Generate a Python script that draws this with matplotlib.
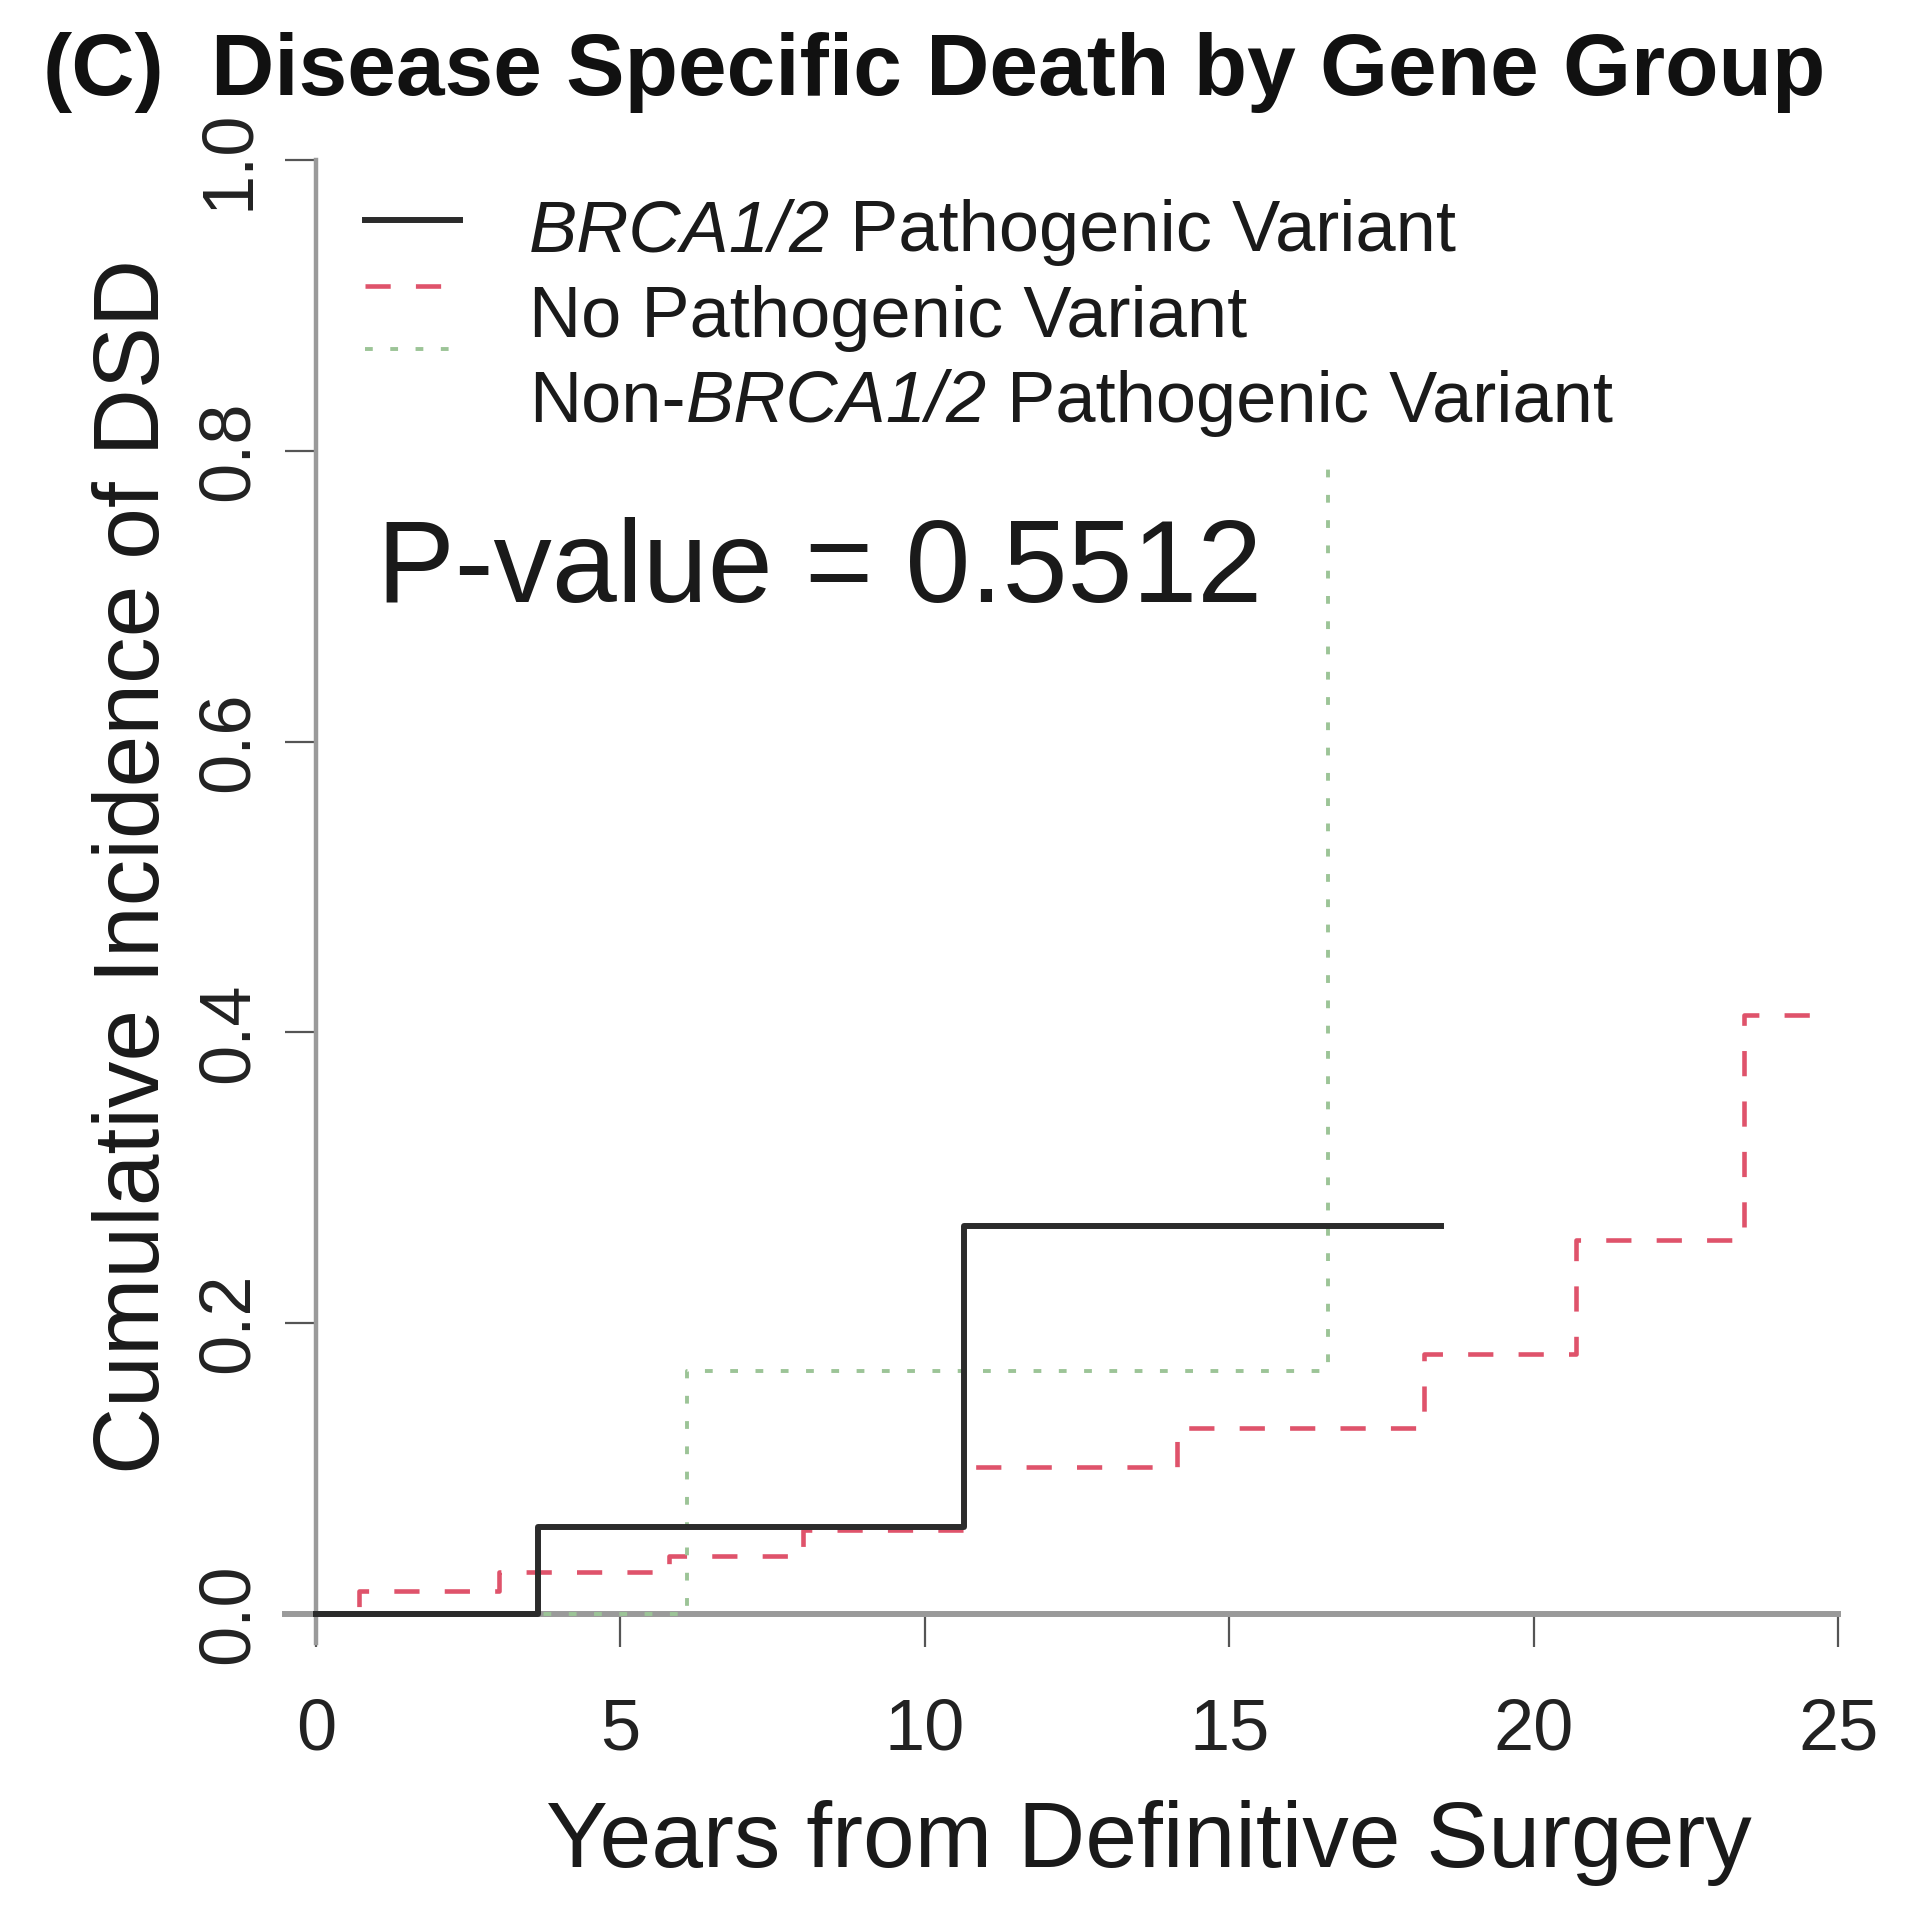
import numpy as np
import matplotlib
matplotlib.use("Agg")
import matplotlib.pyplot as plt
from matplotlib.lines import Line2D

plt.rcParams['font.family'] = ['Liberation Sans', 'DejaVu Sans']

# step curves (years, cumulative incidence)
brca_t = [0, 3.65, 10.65, 18.47]
brca_y = [0, 0.060, 0.267, 0.267]

nopv_t = [0, 0.70, 3.0, 5.8, 8.0, 10.65, 14.15, 18.2, 20.7, 23.45, 24.6]
nopv_y = [0, 0.016, 0.029, 0.040, 0.058, 0.101, 0.128, 0.179, 0.257, 0.412, 0.412]

nonbrca_t = [0, 6.1, 16.62, 16.7]
nonbrca_y = [0, 0.167, 0.795, 0.795]

# legend entries as (text, italic) pieces
legend_labels = [[("BRCA1/2", True), (" Pathogenic Variant", False)],
                 [("No Pathogenic Variant", False)],
                 [("Non-", False), ("BRCA1/2", True), (" Pathogenic Variant", False)]]
xticks = [0, 5, 10, 15, 20, 25]
yticks = [0.0, 0.2, 0.4, 0.6, 0.8, 1.0]
pvalue = "P-value = 0.5512"

W, H = 1917, 1920
fig = plt.figure(figsize=(W / 100, H / 100), dpi=100)
ax = fig.add_axes([255 / W, 248 / H, 1644 / W, 1570 / H])

black = '#2b2b2b'
red = '#DF536B'
green = '#9cc497'

ax.step(brca_t, brca_y, where='post', color=black, lw=4.3, zorder=4, clip_on=False)
ax.step(nopv_t, nopv_y, where='post', color=red, lw=3.3, ls=(0, (5.5, 5.5)), zorder=3, clip_on=False)
ax.step(nonbrca_t, nonbrca_y, where='post', color=green, lw=2.8, ls=(0, (2, 4.5)), zorder=3, clip_on=False)

ax.set_xlim(-1, 26)
ax.set_ylim(-0.04, 1.04)
for s in ['top', 'right']:
    ax.spines[s].set_visible(False)
ax.spines['left'].set_position(('data', 0))
ax.spines['bottom'].set_position(('data', 0))
ax.spines['left'].set_bounds(-0.02, 1.0)
ax.spines['bottom'].set_bounds(-0.5, 25)
ax.spines['left'].set_color('#9a9a9a')
ax.spines['bottom'].set_color('#9a9a9a')
ax.spines['left'].set_linewidth(3.2)
ax.spines['bottom'].set_linewidth(4.3)

ax.set_xticks(xticks)
ax.set_xticklabels([str(v) for v in xticks])
ax.set_yticks(yticks)
ax.set_yticklabels(['%.1f' % v for v in yticks], rotation=90, va='center')
ax.tick_params(axis='x', length=24, width=1.6, color='#555555', pad=36,
               labelsize=52, labelcolor='#222222')
ax.tick_params(axis='y', length=22, width=1.6, color='#555555', pad=16,
               labelsize=52, labelcolor='#222222')

# axis titles placed where the picture has them
fig.text(1149 / W, 1 - 1867 / H, "Years from Definitive Surgery", fontsize=67,
         ha='center', va='baseline', color='#1a1a1a')
fig.text(159 / W, 1 - 866 / H, "Cumulative Incidence of DSD", fontsize=67,
         rotation=90, rotation_mode='anchor', ha='center', va='baseline', color='#1a1a1a')

fig.text(43 / W, 1 - 95 / H, "(C)", fontsize=63, fontweight='bold',
         ha='left', va='baseline', color='#111111')
fig.text(211 / W, 1 - 95 / H, "Disease Specific Death by Gene Group", fontsize=63,
         fontweight='bold', ha='left', va='baseline', color='#111111')

fig.text(377 / W, 1 - 602 / H, pvalue, fontsize=84, ha='left', va='baseline', color='#1a1a1a')

# legend, drawn by hand to keep the picture's spacing
leg_sym_y = [220, 286, 349]
leg_txt_y = [251, 337, 422]
styles = [dict(color=black, lw=4.3, ls='-'),
          dict(color=red, lw=3.3, ls=(0, (5.5, 5.5))),
          dict(color=green, lw=2.8, ls=(0, (2, 4.5)))]
renderer = fig.canvas.get_renderer()
for ys, yt, pieces, st in zip(leg_sym_y, leg_txt_y, legend_labels, styles):
    fig.add_artist(Line2D([365 / W, 460 / W], [1 - ys / H, 1 - ys / H],
                          transform=fig.transFigure, **st))
    xpos = 529.0
    for txt, it in pieces:
        t = fig.text(xpos / W, 1 - yt / H, txt, fontsize=52, ha='left', va='baseline',
                     color='#1a1a1a', style='italic' if it else 'normal')
        xpos += t.get_window_extent(renderer).width

fig.savefig('out.png', dpi=100, facecolor='white')
